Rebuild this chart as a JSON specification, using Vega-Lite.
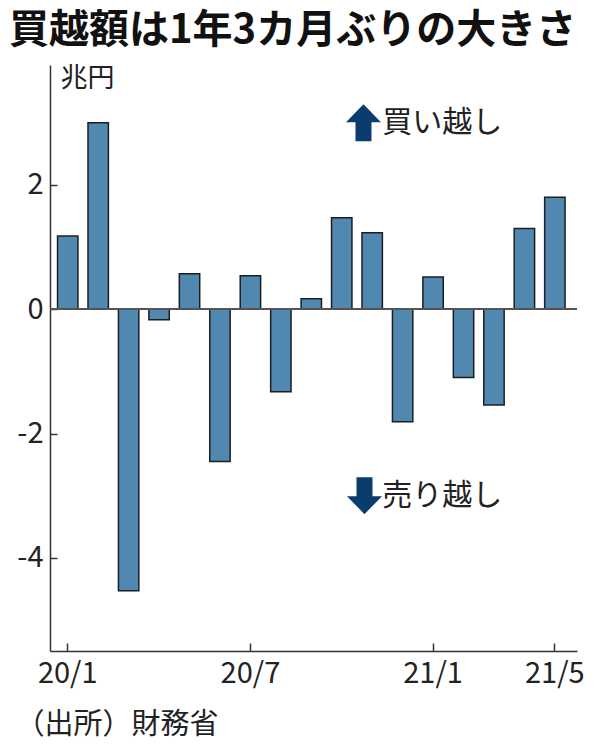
{
  "$schema": "https://vega.github.io/schema/vega-lite/v6.json",
  "width": 527,
  "height": 586,
  "autosize": "none",
  "padding": {"left": 50, "top": 65, "right": 19, "bottom": 105},
  "background": "white",
  "config": {
    "font": "Noto Sans CJK JP",
    "view": {"stroke": null}
  },
  "title": {
    "text": "買越額は1年3カ月ぶりの大きさ",
    "anchor": "start",
    "frame": "group",
    "dx": -41,
    "offset": 13,
    "fontSize": 40,
    "fontWeight": "bold",
    "color": "#111111"
  },
  "data": {
    "values": [
      {"month": "20/1", "value": 1.18},
      {"month": "20/2", "value": 3.0},
      {"month": "20/3", "value": -4.53},
      {"month": "20/4", "value": -0.17},
      {"month": "20/5", "value": 0.57},
      {"month": "20/6", "value": -2.45},
      {"month": "20/7", "value": 0.54},
      {"month": "20/8", "value": -1.33},
      {"month": "20/9", "value": 0.17},
      {"month": "20/10", "value": 1.47},
      {"month": "20/11", "value": 1.23},
      {"month": "20/12", "value": -1.81},
      {"month": "21/1", "value": 0.52},
      {"month": "21/2", "value": -1.1},
      {"month": "21/3", "value": -1.54},
      {"month": "21/4", "value": 1.3},
      {"month": "21/5", "value": 1.8}
    ]
  },
  "encoding": {
    "x": {
      "field": "month",
      "type": "ordinal",
      "scale": {
        "domain": ["20/1", "20/2", "20/3", "20/4", "20/5", "20/6", "20/7", "20/8", "20/9", "20/10", "20/11", "20/12", "21/1", "21/2", "21/3", "21/4", "21/5"],
        "paddingInner": 0.33,
        "paddingOuter": 0.32,
        "align": 0.387
      },
      "axis": {
        "values": ["20/1", "20/7", "21/1", "21/5"],
        "labelAngle": 0,
        "labelFontSize": 29,
        "labelColor": "#222222",
        "labelPadding": 16,
        "tickSize": -8,
        "tickWidth": 1.5,
        "tickColor": "#333333",
        "domainColor": "#333333",
        "domainWidth": 1.5,
        "title": "（出所）財務省",
        "titleX": -35,
        "titleY": 59,
        "titleAlign": "left",
        "titleBaseline": "top",
        "titleFontSize": 29,
        "titleFontWeight": "normal",
        "titleColor": "#222222"
      }
    },
    "y": {
      "field": "value",
      "type": "quantitative",
      "scale": {"domain": [-5.5, 3.93], "nice": false, "zero": false},
      "axis": {
        "values": [-4, -2, 0, 2],
        "labelExpr": "replace(datum.label, '−', '-')",
        "grid": false,
        "labelFontSize": 29,
        "labelColor": "#222222",
        "labelPadding": 14,
        "tickSize": -7,
        "tickWidth": 1.5,
        "tickColor": "#333333",
        "domainColor": "#333333",
        "domainWidth": 1.5,
        "title": "兆円",
        "titleAngle": 0,
        "titleX": 10,
        "titleY": 0,
        "titleAlign": "left",
        "titleBaseline": "top",
        "titleFontSize": 27,
        "titleFontWeight": "normal",
        "titleColor": "#222222"
      }
    }
  },
  "layer": [
    {
      "mark": {"type": "bar", "fill": "#5088b0", "stroke": "#1c1f22", "strokeWidth": 1.5}
    },
    {
      "mark": {"type": "rule", "color": "#555555", "strokeWidth": 1.5},
      "encoding": {"x": null, "y": {"datum": 0}}
    },
    {
      "data": {
        "values": [
          {"month": "20/11", "value": 3, "label": "買い越し", "dir": "up"},
          {"month": "20/11", "value": -3, "label": "売り越し", "dir": "down"}
        ]
      },
      "layer": [
        {
          "mark": {"type": "point", "filled": true, "opacity": 1, "size": 400, "strokeWidth": 0, "color": "#0b3c6e"},
          "encoding": {
            "shape": {
              "field": "dir",
              "type": "nominal",
              "scale": {
                "domain": ["up", "down"],
                "range": [
                  "M-0.87,-1.85L0.88,-0.05L-0.07,-0.05L-0.07,1.85L-1.67,1.85L-1.67,-0.05L-2.62,-0.05Z",
                  "M-0.77,1.85L0.98,0.05L0.03,0.05L0.03,-1.85L-1.57,-1.85L-1.57,0.05L-2.52,0.05Z"
                ]
              },
              "legend": null
            }
          }
        },
        {
          "mark": {"type": "text", "align": "left", "baseline": "middle", "dx": 10, "fontSize": 30, "color": "#222222"},
          "encoding": {"text": {"field": "label"}}
        }
      ]
    }
  ]
}
